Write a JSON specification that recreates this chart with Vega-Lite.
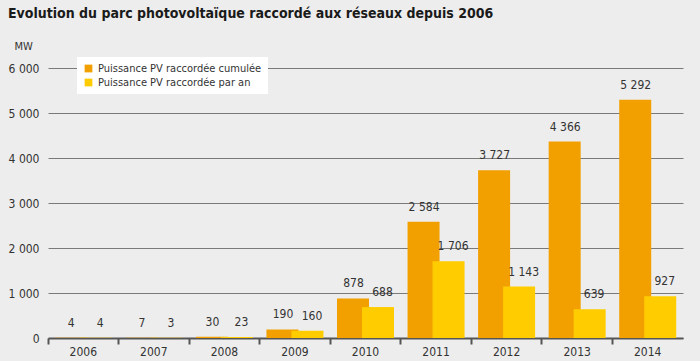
{
  "$schema": "https://vega.github.io/schema/vega-lite/v6.json",
  "width": 635,
  "height": 270,
  "autosize": {"type": "none"},
  "padding": {"left": 48, "top": 68, "right": 17, "bottom": 23},
  "background": "#EDEDED",
  "title": {
    "text": "Evolution du parc photovoltaïque raccordé aux réseaux depuis 2006",
    "anchor": "start",
    "frame": "group",
    "dx": -40,
    "offset": 19,
    "font": "DejaVu Sans Condensed, sans-serif",
    "fontSize": 14,
    "fontWeight": "bold",
    "color": "#1a1a1a"
  },
  "config": {
    "locale": {"number": {"decimal": ",", "thousands": " ", "grouping": [3], "currency": ["", " €"]}},
    "view": {"stroke": null},
    "font": "DejaVu Sans Condensed, sans-serif"
  },
  "data": {
    "values": [
      {"year": "2006", "serie": "Puissance PV raccordée cumulée", "value": 4},
      {"year": "2006", "serie": "Puissance PV raccordée par an", "value": 4},
      {"year": "2007", "serie": "Puissance PV raccordée cumulée", "value": 7},
      {"year": "2007", "serie": "Puissance PV raccordée par an", "value": 3},
      {"year": "2008", "serie": "Puissance PV raccordée cumulée", "value": 30},
      {"year": "2008", "serie": "Puissance PV raccordée par an", "value": 23},
      {"year": "2009", "serie": "Puissance PV raccordée cumulée", "value": 190},
      {"year": "2009", "serie": "Puissance PV raccordée par an", "value": 160},
      {"year": "2010", "serie": "Puissance PV raccordée cumulée", "value": 878},
      {"year": "2010", "serie": "Puissance PV raccordée par an", "value": 688},
      {"year": "2011", "serie": "Puissance PV raccordée cumulée", "value": 2584},
      {"year": "2011", "serie": "Puissance PV raccordée par an", "value": 1706},
      {"year": "2012", "serie": "Puissance PV raccordée cumulée", "value": 3727},
      {"year": "2012", "serie": "Puissance PV raccordée par an", "value": 1143},
      {"year": "2013", "serie": "Puissance PV raccordée cumulée", "value": 4366},
      {"year": "2013", "serie": "Puissance PV raccordée par an", "value": 639},
      {"year": "2014", "serie": "Puissance PV raccordée cumulée", "value": 5292},
      {"year": "2014", "serie": "Puissance PV raccordée par an", "value": 927}
    ]
  },
  "encoding": {
    "x": {
      "field": "year",
      "type": "ordinal",
      "scale": {"paddingInner": 0, "paddingOuter": 0},
      "axis": {
        "title": null,
        "labelAngle": 0,
        "bandPosition": 0,
        "domainColor": "#555555",
        "domainWidth": 2,
        "tickColor": "#555555",
        "tickWidth": 2,
        "tickSize": 6,
        "labelFontSize": 12,
        "labelColor": "#333333",
        "labelPadding": 2,
        "grid": false
      }
    },
    "y": {
      "field": "value",
      "type": "quantitative",
      "scale": {"domain": [0, 6000]},
      "axis": {
        "title": "MW",
        "titleAngle": 0,
        "titleX": -34,
        "titleY": -22,
        "titleAlign": "left",
        "titleBaseline": "middle",
        "titleFontWeight": "normal",
        "titleFontSize": 11,
        "titleColor": "#333333",
        "values": [0, 1000, 2000, 3000, 4000, 5000, 6000],
        "format": ",d",
        "domain": false,
        "ticks": false,
        "labelPadding": 9,
        "labelFontSize": 12,
        "labelColor": "#333333",
        "gridColor": "#7a7a7a",
        "gridWidth": 1,
        "gridOpacity": 1
      }
    }
  },
  "layer": [
    {
      "transform": [{"filter": "datum.serie === 'Puissance PV raccordée cumulée'"}],
      "mark": {"type": "bar", "width": 32, "xOffset": -12.5},
      "encoding": {
        "color": {
          "field": "serie",
          "type": "nominal",
          "scale": {
            "domain": ["Puissance PV raccordée cumulée", "Puissance PV raccordée par an"],
            "range": ["#F29F00", "#FFCC00"]
          },
          "legend": {
            "title": null,
            "orient": "none",
            "legendX": 29,
            "legendY": -11,
            "fillColor": "white",
            "padding": 6,
            "symbolType": "square",
            "symbolSize": 60,
            "labelFontSize": 11,
            "labelColor": "#333333",
            "rowPadding": 2,
            "labelLimit": 300
          }
        }
      }
    },
    {
      "transform": [{"filter": "datum.serie === 'Puissance PV raccordée par an'"}],
      "mark": {"type": "bar", "width": 32, "xOffset": 12.5},
      "encoding": {
        "color": {"field": "serie", "type": "nominal"}
      }
    },
    {
      "transform": [{"filter": "datum.serie === 'Puissance PV raccordée cumulée'"}],
      "mark": {"type": "text", "xOffset": -12, "dy": -8, "baseline": "bottom", "fontSize": 12, "color": "#333333"},
      "encoding": {"text": {"field": "value", "type": "quantitative", "format": ",d"}}
    },
    {
      "transform": [{"filter": "datum.serie === 'Puissance PV raccordée par an'"}],
      "mark": {"type": "text", "xOffset": 17, "dy": -8, "baseline": "bottom", "fontSize": 12, "color": "#333333"},
      "encoding": {"text": {"field": "value", "type": "quantitative", "format": ",d"}}
    }
  ]
}
